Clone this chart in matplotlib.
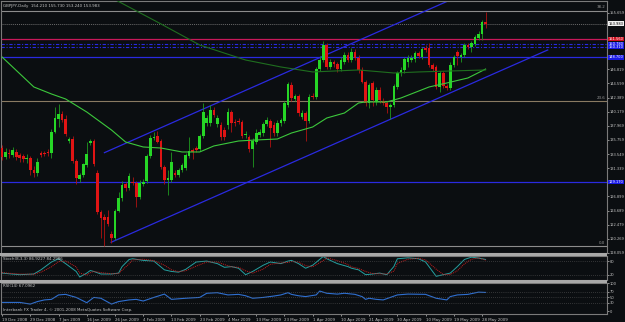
import matplotlib
matplotlib.use("Agg")
import matplotlib.pyplot as plt
import numpy as np

# ---- data (GBPJPY daily) ----
opens = [134.45, 133.13, 133.76, 133.40, 133.91, 133.40, 133.24, 132.75, 132.88, 131.05,
         130.53, 133.76, 133.70, 133.91, 133.66, 137.05, 139.03, 139.77, 139.03, 135.59,
         135.86, 132.46, 129.64, 130.27, 131.83, 135.23, 135.59, 130.63, 124.52, 123.74,
         123.64, 121.03, 120.35, 124.63, 126.71, 128.81, 128.28, 129.22, 129.06, 126.87,
         128.86, 129.33, 133.29, 136.01, 136.37, 135.59, 131.57, 129.48, 129.48, 130.53,
         130.27, 131.05, 131.36, 133.24, 134.18, 134.45, 134.29, 136.37, 138.36, 138.36,
         140.44, 138.25, 138.10, 137.31, 138.10, 140.18, 138.61, 138.77, 138.52, 136.53,
         136.17, 134.33, 135.48, 136.60, 136.80, 138.20, 138.72, 138.10, 136.80, 138.36,
         138.72, 141.23, 144.36, 142.12, 142.64, 139.39, 139.93, 138.72, 142.70, 142.53,
         146.82, 148.27, 150.62, 147.18, 147.96, 147.65, 146.86, 147.96, 149.06, 148.27,
         149.50, 148.60, 146.71, 144.88, 141.49, 144.63, 141.74, 143.58, 141.90, 141.59,
         140.87, 141.23, 144.09, 146.29, 146.71, 148.00, 148.27, 148.38, 149.32, 148.79,
         150.10, 150.10, 147.49, 147.13, 143.99, 146.19, 144.20, 143.84, 147.49, 149.57,
         148.79, 149.06, 150.62, 150.26, 150.78, 151.67, 152.30, 154.21]
highs = [134.96, 134.49, 134.30, 134.60, 134.30, 133.70, 133.60, 133.50, 133.30, 131.60,
         132.90, 134.00, 134.00, 134.30, 137.40, 140.91, 141.38, 140.30, 139.60, 136.20,
         136.30, 132.70, 130.60, 132.20, 135.48, 135.90, 135.90, 131.00, 124.80, 124.10,
         124.78, 121.50, 125.00, 127.65, 129.40, 129.20, 130.60, 129.90, 129.40, 129.50,
         129.60, 133.60, 136.50, 137.05, 137.10, 135.90, 131.80, 131.00, 133.90, 131.00,
         131.40, 132.20, 133.70, 136.17, 134.50, 134.80, 136.70, 141.49, 139.60, 141.20,
         140.90, 139.60, 138.50, 137.80, 140.70, 140.50, 139.00, 139.20, 138.90, 137.10,
         136.50, 136.00, 137.40, 137.50, 138.60, 139.30, 139.10, 138.50, 138.80, 139.20,
         141.80, 144.88, 144.80, 143.00, 143.00, 140.40, 140.30, 142.90, 143.10, 147.20,
         148.90, 151.25, 151.00, 148.50, 148.30, 148.00, 148.80, 149.50, 149.60, 150.20,
         150.00, 149.00, 147.10, 145.20, 144.70, 145.00, 144.00, 144.00, 142.30, 141.90,
         141.60, 144.50, 146.60, 147.20, 148.80, 149.00, 149.00, 149.70, 149.70, 150.30,
         150.60, 150.89, 147.80, 147.50, 146.50, 146.50, 144.50, 148.00, 149.10, 149.90,
         149.40, 150.90, 150.90, 151.20, 152.20, 152.80, 154.50, 155.73]
lows = [132.61, 132.77, 133.00, 133.10, 132.60, 132.30, 132.30, 132.20, 130.27, 130.00,
        130.10, 133.10, 133.20, 133.30, 132.93, 136.80, 137.78, 138.50, 136.30, 135.30,
        132.20, 128.86, 129.20, 130.00, 131.50, 134.90, 131.60, 124.20, 120.40, 119.10,
        122.20, 119.60, 120.10, 124.40, 126.20, 127.80, 127.90, 128.70, 125.30, 126.50,
        128.50, 129.00, 132.90, 135.80, 135.20, 131.20, 128.86, 127.13, 129.20, 129.90,
        129.90, 130.70, 131.10, 132.90, 132.70, 133.90, 134.00, 136.10, 138.00, 138.00,
        139.30, 137.80, 135.80, 135.70, 137.50, 137.00, 138.00, 138.20, 136.00, 136.00,
        133.90, 131.50, 135.10, 136.20, 136.40, 137.90, 134.70, 136.30, 136.40, 138.00,
        138.40, 140.90, 141.90, 141.80, 139.50, 139.00, 135.64, 138.40, 142.20, 142.20,
        146.50, 148.00, 146.90, 146.80, 147.20, 146.40, 146.50, 147.60, 147.90, 147.90,
        148.20, 146.30, 144.60, 141.10, 140.70, 141.10, 141.30, 141.60, 141.20, 140.02,
        139.03, 140.90, 143.80, 145.70, 146.30, 147.20, 147.90, 148.00, 148.60, 148.50,
        149.50, 147.20, 146.50, 143.70, 143.31, 143.90, 143.50, 143.50, 147.20, 147.49,
        148.00, 148.80, 150.00, 149.57, 150.50, 151.40, 151.40, 153.24]
closes = [133.13, 133.91, 133.60, 134.18, 133.04, 132.88, 132.72, 133.00, 131.05, 130.53,
          132.35, 133.40, 133.50, 133.66, 137.05, 139.14, 139.77, 138.88, 136.69, 135.86,
          132.46, 129.75, 130.27, 131.94, 133.51, 135.59, 131.99, 124.52, 123.48, 123.22,
          122.59, 120.35, 124.63, 126.71, 128.70, 128.18, 130.11, 128.97, 126.87, 129.06,
          129.22, 133.24, 136.11, 136.17, 135.48, 131.57, 129.48, 129.75, 132.35, 130.27,
          131.05, 131.83, 133.40, 134.07, 133.91, 134.18, 136.37, 140.18, 139.14, 140.44,
          139.66, 139.14, 136.17, 136.22, 140.18, 138.36, 138.36, 138.57, 136.37, 136.68,
          134.29, 135.60, 136.89, 137.05, 138.25, 138.88, 137.58, 136.80, 138.36, 138.88,
          141.49, 144.52, 142.28, 142.64, 139.93, 140.02, 138.77, 142.53, 142.50, 146.82,
          148.27, 150.62, 147.18, 147.96, 147.65, 146.86, 148.27, 149.06, 148.27, 149.53,
          148.60, 146.70, 144.88, 141.49, 144.36, 142.01, 143.58, 142.01, 141.59, 140.87,
          141.23, 144.20, 146.29, 146.71, 148.38, 148.60, 148.54, 149.32, 148.90, 149.95,
          149.84, 147.49, 146.82, 143.99, 146.19, 144.20, 143.84, 147.49, 148.79, 148.90,
          149.06, 150.62, 150.36, 150.89, 151.92, 152.35, 154.21, 153.98]

# moving averages (read at a few bars)
ma_fast_idx = [0, 9, 14, 18, 24, 31, 35, 40, 45, 51, 56, 60, 67, 72, 78, 82, 85, 88,
               92, 97, 101, 103, 109, 113, 121, 126, 132, 137]
ma_fast = [148.74, 144.05, 142.95, 142.17, 140.13, 137.31, 135.43, 134.65, 134.49, 133.87,
           133.87, 134.81, 135.59, 135.75, 135.90, 136.84, 137.31, 137.78, 139.19, 139.97,
           141.54, 141.70, 141.70, 142.32, 144.05, 144.67, 145.46, 146.85]
ma_slow_idx = [29, 44, 56, 69, 79, 88, 101, 111, 118, 127, 137]
ma_slow = [158.60, 154.22, 150.62, 148.27, 147.18, 146.40, 146.71, 146.24, 146.40, 146.55, 146.71]

# channel trendlines (bar index, price)
upper_line = ([29.0, 127.0], [133.76, 157.67])
lower_line = ([30.9, 154.6], [119.73, 149.84])

# horizontal levels
fib_levels = {"38.2": 155.95, "23.6": 141.78, "0.0": 119.07}
bid_price = 153.983
red_level = 151.56
blue_dash_levels = [150.78, 150.31]
blue_levels = [148.70, 129.17]

# stochastic (8,3,3)
stoch_idx = [0, 2, 5, 9, 11, 14, 16, 18, 21, 22, 24, 25, 26, 28, 31, 33, 34, 36, 37, 40,
             43, 46, 48, 50, 52, 55, 58, 61, 63, 65, 67, 69, 71, 74, 76, 79, 81, 82, 84,
             86, 88, 91, 92, 95, 98, 99, 101, 103, 105, 107, 109, 111, 112, 115, 118, 120,
             123, 125, 127, 129, 131, 133, 135, 137]
stoch_main = [28, 25, 21, 24, 42, 76, 90, 69, 35, 11, 28, 39, 35, 24, 24, 28, 56, 87, 90, 83,
              80, 42, 35, 32, 44, 76, 80, 69, 53, 56, 49, 21, 35, 62, 76, 69, 80, 83, 69,
              49, 62, 100, 90, 69, 56, 49, 42, 21, 24, 28, 21, 56, 90, 94, 90, 76, 14, 21,
              28, 56, 87, 97, 93, 87]
stoch_signal = [30, 27, 24, 23, 32, 55, 78, 80, 55, 28, 20, 30, 35, 30, 25, 26, 40, 68, 85, 88,
                82, 62, 42, 34, 38, 58, 76, 76, 65, 55, 53, 38, 28, 45, 66, 72, 74, 78, 76,
                60, 55, 82, 94, 82, 65, 55, 48, 35, 26, 25, 24, 36, 70, 88, 92, 85, 45, 22,
                22, 38, 68, 88, 94, 84]

# RSI(14)
rsi_idx = [0, 5, 8, 10, 12, 14, 16, 18, 21, 24, 26, 28, 31, 33, 36, 38, 40, 43, 46, 48,
           52, 56, 58, 61, 64, 67, 69, 71, 74, 77, 79, 81, 82, 84, 86, 89, 90, 92, 95, 97,
           100, 102, 103, 104, 106, 108, 110, 112, 115, 120, 123, 125, 126, 127, 129, 132,
           135, 137]
rsi = [31, 31, 25, 34, 40, 42, 58, 60, 49, 30, 49, 46, 25, 34, 40, 42, 36, 49, 61, 42,
       46, 49, 64, 66, 58, 60, 55, 46, 49, 54, 58, 66, 60, 55, 52, 58, 72, 64, 61, 64,
       60, 52, 42, 46, 42, 40, 49, 58, 61, 60, 46, 42, 40, 52, 58, 60, 68, 67]

price_ticks = [155.659, 146.819, 144.599, 142.389, 140.179, 137.969, 135.759, 133.549,
               131.339, 126.899, 124.689, 122.479, 120.269, 118.059]

date_labels = ["19 Dec 2008", "29 Dec 2008", "7 Jan 2009", "16 Jan 2009", "26 Jan 2009",
               "4 Feb 2009", "13 Feb 2009", "23 Feb 2009", "4 Mar 2009", "13 Mar 2009",
               "23 Mar 2009", "1 Apr 2009", "10 Apr 2009", "21 Apr 2009", "30 Apr 2009",
               "10 May 2009", "19 May 2009", "28 May 2009"]

# ---- style ----
BG = "#0b0e11"
FG = "#c4c4c4"
GRID = "#5a5a5a"
W, H = 625, 322
XMIN, XMAX = -0.3, 171.4
FS = 2.9    # tiny terminal font
FS_R = 2.6  # right-hand price scale

plt.rcParams["font.family"] = ["Liberation Sans Narrow", "DejaVu Sans"]
fig = plt.figure(figsize=(W / 100, H / 100), dpi=100, facecolor=BG)


def px_axes(x0, y0, x1, y1):
    return fig.add_axes([x0 / W, 1 - y1 / H, (x1 - x0) / W, (y1 - y0) / H], facecolor=BG)


ax = px_axes(1, 1, 607, 253)
ax_st = px_axes(1, 256, 607, 280)
ax_rsi = px_axes(1, 283, 607, 314)

for a in (ax, ax_st, ax_rsi):
    a.set_xlim(XMIN, XMAX)
    for s in a.spines.values():
        s.set_color("#7a7a7a")
        s.set_linewidth(0.8)
    a.tick_params(axis="both", colors=FG, labelsize=FS_R, length=1.2, width=0.5, pad=0.5)
    a.yaxis.tick_right()
    a.set_xticks([])

# ---- main price panel ----
ax.set_ylim(118.05, 157.51)
x = np.arange(len(closes))
o = np.array(opens)
c = np.array(closes)
up = c >= o
ax.vlines(x[up], np.array(lows)[up], np.array(highs)[up], color="#1f9a1f", lw=0.6, zorder=3)
ax.vlines(x[~up], np.array(lows)[~up], np.array(highs)[~up], color="#b01212", lw=0.6, zorder=3)
body_h = np.maximum(np.abs(c - o), 0.12)
ax.bar(x[up], body_h[up], bottom=np.minimum(o, c)[up], width=0.75, color="#26d626", lw=0, zorder=4)
ax.bar(x[~up], body_h[~up], bottom=np.minimum(o, c)[~up], width=0.75, color="#e01414", lw=0, zorder=4)

ax.plot(ma_fast_idx, ma_fast, color="#3cc83c", lw=0.8, zorder=5)
ax.plot(ma_slow_idx, ma_slow, color="#1f6e1f", lw=0.8, zorder=5)

ax.plot(*upper_line, color="#2a2ae0", lw=0.9, zorder=2)
ax.plot(*lower_line, color="#2a2ae0", lw=0.9, zorder=2)

ax.axhline(fib_levels["38.2"], color="#8c8c8c", lw=0.8, zorder=1)
ax.axhline(fib_levels["23.6"], color="#8a7a62", lw=0.8, zorder=1)
ax.axhline(fib_levels["0.0"], color="#8c8c8c", lw=0.8, zorder=1)
ax.axhline(bid_price, color="#6a6a6a", lw=0.7, ls=(0, (1, 1)), zorder=1)
ax.axhline(red_level, color="#c8185a", lw=0.9, zorder=1)
for lv in blue_dash_levels:
    ax.axhline(lv, color="#2a2ae0", lw=0.8, ls=(0, (3, 1.5, 1, 1.5)), zorder=1)
for lv in blue_levels:
    ax.axhline(lv, color="#2a2ae0", lw=0.9, zorder=1)

for name, lv in fib_levels.items():
    ax.text(0.997, lv + 0.25, name, transform=ax.get_yaxis_transform(), ha="right",
            va="bottom", fontsize=FS, color="#9a9a9a")

ax.set_yticks(price_ticks)
ax.set_yticklabels([f"{v:.3f}" for v in price_ticks])

ytr = ax.get_yaxis_transform()
tag = dict(transform=ytr, ha="left", va="center", fontsize=FS_R, clip_on=False)
box = dict(boxstyle="square,pad=0.1", ec="none")
ax.text(1.003, bid_price, f"{bid_price:.3f}", color="black", bbox=dict(box, fc="#f0f0f0"), **tag)
ax.text(1.003, red_level, f"{red_level:.3f}", color="white", bbox=dict(box, fc="#d01020"), **tag)
for lv in blue_dash_levels + blue_levels:
    ax.text(1.003, lv, f"{lv:.3f}", color="white", bbox=dict(box, fc="#1a1ae6"), **tag)

ax.text(0.004, 0.988, "GBPJPY,Daily  154.210 155.730 153.240 153.983", transform=ax.transAxes,
        ha="left", va="top", fontsize=FS, color=FG)

# ---- stochastic ----
ax_st.set_ylim(-2, 102)
ax_st.plot(stoch_idx, stoch_main, color="#24a0a0", lw=0.7)
ax_st.plot(stoch_idx, stoch_signal, color="#c81e1e", lw=0.7, ls=(0, (1, 1)))
for lv in (80, 20):
    ax_st.axhline(lv, color=GRID, lw=0.5, ls=(0, (1, 2)))
ax_st.set_yticks([80, 20])
ax_st.set_yticklabels(["80", "20"])
ax_st.text(0.004, 0.96, "Stoch(8,3,3) 86.9227 84.2986", transform=ax_st.transAxes,
           ha="left", va="top", fontsize=FS, color=FG)

# ---- RSI ----
ax_rsi.set_ylim(-10.8, 101)
ax_rsi.plot(rsi_idx, rsi, color="#2f6fd0", lw=0.8)
for lv in (70, 50, 30):
    ax_rsi.axhline(lv, color=GRID, lw=0.5, ls=(0, (1, 2)))
ax_rsi.set_yticks([100, 70, 50, 30, 0])
ax_rsi.set_yticklabels(["100", "70", "50", "30", "0"])
ax_rsi.text(0.004, 0.96, "RSI(14) 67.0962", transform=ax_rsi.transAxes,
            ha="left", va="top", fontsize=FS, color=FG)
ax_rsi.text(0.004, 0.06, "Interbank FX Trader 4, \u00a9 2001-2008 MetaQuotes Software Corp.",
            transform=ax_rsi.transAxes, ha="left", va="bottom", fontsize=FS, color=FG)

ax_rsi.set_xticks(np.arange(0, 8 * len(date_labels), 8))
ax_rsi.set_xticklabels(date_labels, ha="left")
ax_rsi.tick_params(axis="x", colors=FG, labelsize=FS, length=1.5, pad=1.5)

# panel separators
for y0 in (253, 280):
    fig.add_artist(plt.Rectangle((0, 1 - (y0 + 3) / H), 607 / W, 3 / H, transform=fig.transFigure,
                                 fc="#a8a8a8", ec="none"))

fig.savefig("out.png", dpi=100, facecolor=BG)
